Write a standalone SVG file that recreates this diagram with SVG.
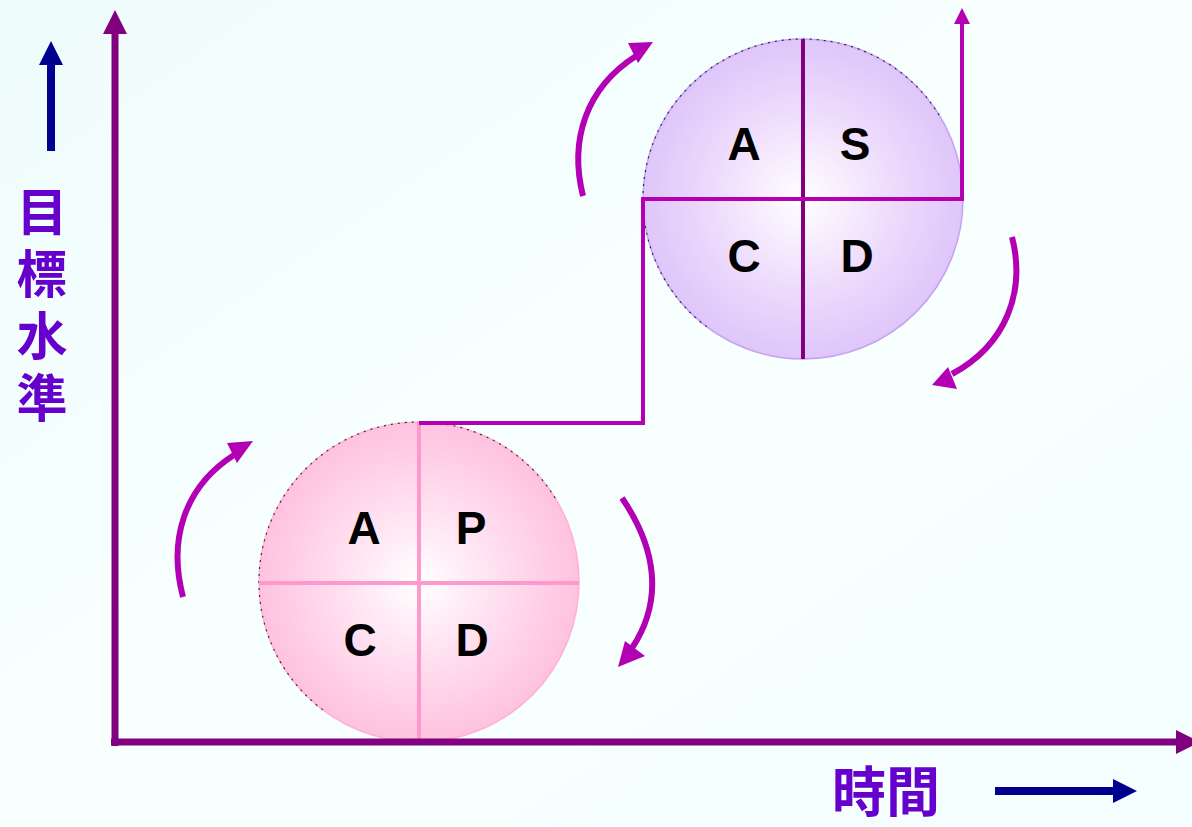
<svg xmlns="http://www.w3.org/2000/svg" width="1192" height="827" viewBox="0 0 1192 827">
  <defs>
    <linearGradient id="bg" x1="0" y1="0" x2="1" y2="1">
      <stop offset="0" stop-color="#effcfc"/>
      <stop offset="0.5" stop-color="#f8ffff"/>
      <stop offset="1" stop-color="#f4fefe"/>
    </linearGradient>
    <radialGradient id="pinkFill" cx="0.5" cy="0.5" r="0.5">
      <stop offset="0" stop-color="#ffffff"/>
      <stop offset="0.55" stop-color="#ffdcee"/>
      <stop offset="1" stop-color="#ffc2df"/>
    </radialGradient>
    <radialGradient id="lavFill" cx="0.5" cy="0.5" r="0.5">
      <stop offset="0" stop-color="#ffffff"/>
      <stop offset="0.55" stop-color="#eedcfc"/>
      <stop offset="1" stop-color="#dec6fa"/>
    </radialGradient>
    <marker id="axisHead" viewBox="0 0 24 24" refX="2" refY="12" markerWidth="24" markerHeight="24" markerUnits="userSpaceOnUse" orient="auto">
      <path d="M0,0 L24,12 L0,24 Z" fill="#800080"/>
    </marker>
    <marker id="blueHead" viewBox="0 0 24 24" refX="2" refY="12" markerWidth="24" markerHeight="24" markerUnits="userSpaceOnUse" orient="auto">
      <path d="M0,0 L24,12 L0,24 Z" fill="#000090"/>
    </marker>
    <marker id="stepHead" viewBox="0 0 16 16" refX="1" refY="8" markerWidth="16" markerHeight="16" markerUnits="userSpaceOnUse" orient="auto">
      <path d="M0,0 L16,8 L0,16 Z" fill="#b400b4"/>
    </marker>
  </defs>
  <style>
    .axis { stroke: #800080; stroke-width: 7; fill: none; }
    .blue { stroke: #000090; stroke-width: 8; fill: none; }
    .cycle { stroke: #b400b4; stroke-width: 6; fill: none; }
    .head { fill: #b400b4; }
    .step { stroke: #b400b4; stroke-width: 4; fill: none; }
    .letter { font-family: "Liberation Sans", Arial, sans-serif; font-weight: bold; font-size: 46px; fill: #000; text-anchor: middle; }
    .cjk { font-family: "Noto Sans CJK TC", "Noto Sans CJK SC", sans-serif; font-weight: bold; fill: #6600cc; }
    .rim { stroke: #000; stroke-width: 1.2; stroke-dasharray: 2 5; fill: none; opacity: 0.75; }
  </style>

  <rect width="1192" height="827" fill="url(#bg)"/>

  <!-- axis labels -->
  <g id="y-label">
    <line class="blue" x1="51" y1="151" x2="51" y2="63" marker-end="url(#blueHead)"/>
    <text class="cjk" x="42" y="186" font-size="51" writing-mode="vertical-rl" letter-spacing="11">目標水準</text>
  </g>
  <g id="x-label">
    <text class="cjk" x="886" y="812" font-size="54" text-anchor="middle">時間</text>
    <line class="blue" x1="995" y1="791" x2="1115" y2="791" marker-end="url(#blueHead)"/>
  </g>

  <!-- lower PDCA wheel -->
  <g id="wheel-pdca">
    <circle cx="419" cy="582" r="160" fill="url(#pinkFill)" stroke="#ffb0d6" stroke-width="1.5"/>
    <path class="rim" d="M322.7,709.8 A160,160 0 1 1 556.1,499.6"/>
    <line x1="419" y1="422" x2="419" y2="742" stroke="#ff99cc" stroke-width="4"/>
    <line x1="259" y1="583" x2="579" y2="583" stroke="#ff99cc" stroke-width="4"/>
    <text class="letter" x="364" y="544">A</text>
    <text class="letter" x="471" y="544">P</text>
    <text class="letter" x="360" y="656">C</text>
    <text class="letter" x="472" y="656">D</text>
  </g>

  <!-- upper SDCA wheel -->
  <g id="wheel-sdca">
    <circle cx="803" cy="199" r="160" fill="url(#lavFill)" stroke="#c8a2f2" stroke-width="1.5"/>
    <path class="rim" d="M706.7,326.8 A160,160 0 1 1 940.1,116.6"/>
    <line x1="803" y1="39" x2="803" y2="359" stroke="#800080" stroke-width="4"/>
    <text class="letter" x="744" y="160">A</text>
    <text class="letter" x="855" y="160">S</text>
    <text class="letter" x="744" y="272">C</text>
    <text class="letter" x="857" y="272">D</text>
  </g>

  <!-- connectors: axes, step line, rotation arrows -->
  <g id="connectors">
    <line class="axis" x1="115" y1="746" x2="115" y2="32" marker-end="url(#axisHead)"/>
    <line class="axis" x1="111" y1="742" x2="1178" y2="742" marker-end="url(#axisHead)"/>

    <path class="step" d="M419,423 H643 V199 H962 V23" marker-end="url(#stepHead)"/>

    <path class="cycle" d="M183,597 C168,540 184,487 234,455"/>
    <polygon class="head" points="253,441 227,443 237,463"/>

    <path class="cycle" d="M622,498 C656,548 664,600 632,648"/>
    <polygon class="head" points="618,667 625,641 645,656"/>

    <path class="cycle" d="M583,196 C569,140 586,88 636,56"/>
    <polygon class="head" points="653,42 628,43 638,63"/>

    <path class="cycle" d="M1012,237 C1026,292 1006,345 952,374"/>
    <polygon class="head" points="932,385 948,367 957,389"/>
  </g>
</svg>
